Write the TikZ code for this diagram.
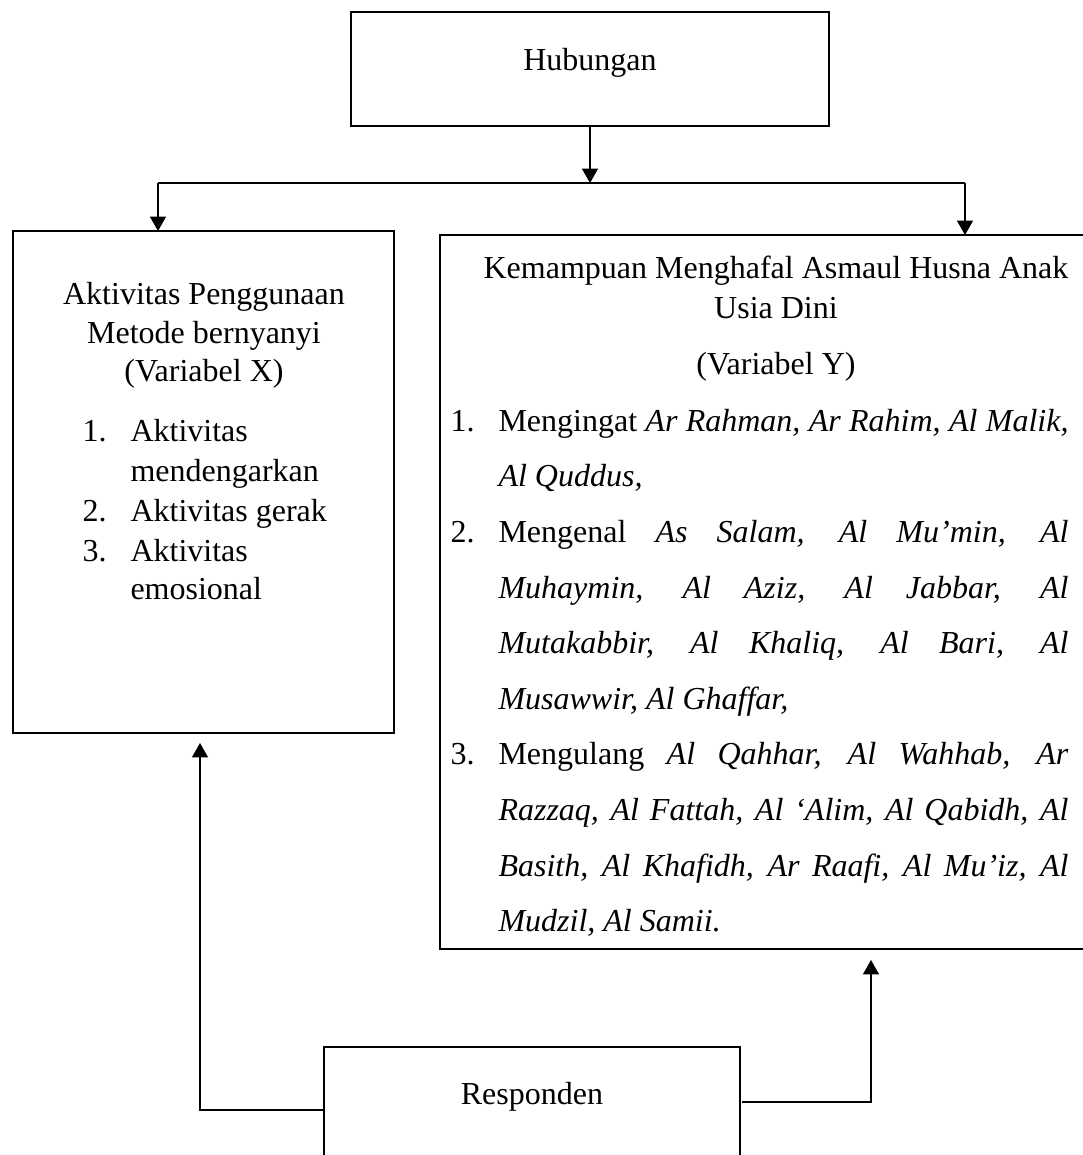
\documentclass[tikz,border=0pt]{standalone}
\usepackage{fontspec}
\setmainfont{Liberation Serif}
\usetikzlibrary{arrows.meta}
\tikzset{>={Triangle[width=6pt,length=5.4pt]}}
\newcommand{\unitpx}{0.375pt}
\newcommand{\jline}[1]{\makebox[213.75pt][s]{#1}}

\begin{document}
\begin{tikzpicture}[x=0.375pt,y=-0.375pt,
    box/.style={draw,line width=1.1pt,inner sep=0pt,outer sep=0pt},
    conn/.style={line width=0.5pt},
    txt/.style={inner sep=0pt,anchor=base,font=\fontsize{12}{14}\selectfont},
    txtl/.style={txt,anchor=base west}]
  \useasboundingbox (0,0) rectangle (1083,1155);
  % boxes
  \node[box,minimum width=478*\unitpx,minimum height=114*\unitpx] (hub) at (590,69) {};
  \node[box,minimum width=381*\unitpx,minimum height=502*\unitpx] (xbox) at (203.5,482) {};
  \node[box,minimum width=660*\unitpx,minimum height=714*\unitpx] (ybox) at (770,592) {};
  \node[box,minimum width=416*\unitpx,minimum height=203*\unitpx] (resp) at (532,1148.5) {};
  % texts
  \node[txt] (hubtext) at (590,70) {Hubungan};
  \node[txt] (resptext) at (532,1104) {Responden};
  \node[txt] (xt1) at (204,304) {Aktivitas Penggunaan};
  \node[txt] (xt2) at (204,343) {Metode bernyanyi};
  \node[txt] (xt3) at (204,381) {(Variabel X)};
  \foreach \n/\y/\s in {1./441/Aktivitas, /481/mendengarkan, 2./521/Aktivitas gerak,
      3./561/Aktivitas, /599/emosional} {
    \node[txtl] (xn\y) at (82,\y) {\n};
    \node[txtl] (xl\y) at (130,\y) {\s};
  }
  \node[txt] (yt1) at (776,278) {Kemampuan Menghafal Asmaul Husna Anak};
  \node[txt] (yt2) at (776,318) {Usia Dini};
  \node[txt] (yt3) at (776,374) {(Variabel Y)};
  \node[txtl] (yn1) at (450,431) {1.};
  \node[txtl] (yn2) at (450,542) {2.};
  \node[txtl] (yn3) at (450,764.6) {3.};
  \node[txtl] (yl0) at (498,431) {\jline{Mengingat \textit{Ar Rahman, Ar Rahim, Al Malik,}}};
  \node[txtl] (yl1) at (498,486.6) {\textit{Al Quddus,}};
  \node[txtl] (yl2) at (498,542) {\jline{Mengenal \textit{As Salam, Al Mu’min, Al}}};
  \node[txtl] (yl3) at (498,598) {\jline{\textit{Muhaymin, Al Aziz, Al Jabbar, Al}}};
  \node[txtl] (yl4) at (498,653) {\jline{\textit{Mutakabbir, Al Khaliq, Al Bari, Al}}};
  \node[txtl] (yl5) at (498,709) {\textit{Musawwir, Al Ghaffar,}};
  \node[txtl] (yl6) at (498,764.6) {\jline{Mengulang \textit{Al Qahhar, Al Wahhab, Ar}}};
  \node[txtl] (yl7) at (498,820) {\jline{\textit{Razzaq, Al Fattah, Al ‘Alim, Al Qabidh, Al}}};
  \node[txtl] (yl8) at (498,876) {\jline{\textit{Basith, Al Khafidh, Ar Raafi, Al Mu’iz, Al}}};
  \node[txtl] (yl9) at (498,931) {\textit{Mudzil, Al Samii.}};
  % connectors
  \coordinate (split) at (590,183);
  \coordinate (splitl) at (158,183);
  \coordinate (splitr) at (965,183);
  \draw[conn,->] (hub.south) -- (split);
  \draw[conn] (splitl) -- (splitr);
  \draw[conn,->] (splitl) -- (splitl |- xbox.north);
  \draw[conn,->] (splitr) -- (splitr |- ybox.north);
  \coordinate (retl) at (200,1110);
  \coordinate (tipx) at (200,743);
  \coordinate (retr) at (871,1102);
  \coordinate (tipy) at (871,960);
  \draw[conn,->] (resp.west |- retl) -- (retl) -- (tipx);
  \draw[conn,->] ([xshift=0.8pt]resp.east |- retr) -- (retr) -- (tipy);
\end{tikzpicture}
\end{document}
